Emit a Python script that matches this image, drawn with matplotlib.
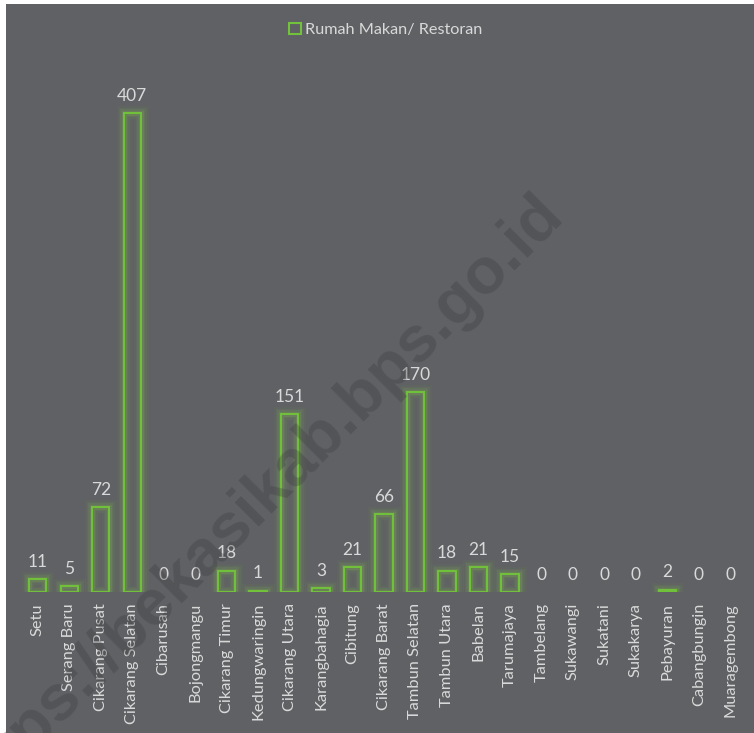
import matplotlib.pyplot as plt
import matplotlib.patches as mpatches
import numpy as np

kecamatan = ["Setu", "Serang Baru", "Cikarang Pusat", "Cikarang Selatan", "Cibarusah",
             "Bojongmangu", "Cikarang Timur", "Kedungwaringin", "Cikarang Utara",
             "Karangbahagia", "Cibitung", "Cikarang Barat", "Tambun Selatan",
             "Tambun Utara", "Babelan", "Tarumajaya", "Tambelang", "Sukawangi",
             "Sukatani", "Sukakarya", "Pebayuran", "Cabangbungin", "Muaragembong"]
rumah_makan = [11, 5, 72, 407, 0, 0, 18, 1, 151, 3, 21, 66, 170, 18, 21, 15,
               0, 0, 0, 0, 2, 0, 0]

bg = "#5f6164"
green = "#72c23c"
txt = "#d9d9d9"
plt.rcParams["font.family"] = ["Lato", "DejaVu Sans"]

W, H = 754, 733
fig = plt.figure(figsize=(W / 100, H / 100), dpi=100, facecolor="white")
fig.patches.append(mpatches.Rectangle((6 / W, 0), 1, 1 - 4 / H, transform=fig.transFigure,
                                      facecolor=bg, edgecolor="none", zorder=-5))

# axes: x from px 22 to 746, baseline at px 592, 407 at px 113
scale = (592 - 113) / 407
top_px = 62
ax = fig.add_axes([22 / W, (H - 592) / H, (746 - 22) / W, (592 - top_px) / H])
ax.set_facecolor("none")
ax.set_ylim(0, (592 - top_px) / scale)
ax.set_xlim(-0.5, len(kecamatan) - 0.5)

x = np.arange(len(kecamatan))
# glow
for lw, a in [(11, 0.04), (8, 0.06), (5.5, 0.09), (3.5, 0.14)]:
    glow = ax.bar(x, rumah_makan, width=0.55, facecolor="none", edgecolor="#8ccf45",
                  linewidth=lw, alpha=a)
    for p, v in zip(glow, rumah_makan):
        p.set_visible(v > 0)
bars = ax.bar(x, rumah_makan, width=0.55, facecolor="none", edgecolor=green,
              linewidth=1.4, label="Rumah Makan/ Restoran")
for p, v in zip(bars, rumah_makan):
    p.set_visible(v > 0)

for xi, v in zip(x, rumah_makan):
    ax.text(xi, v + 8, str(v), ha="center", va="bottom", color=txt, fontsize=12.5)

ax.set_xticks(x)
ax.set_xticklabels(kecamatan, rotation=90, color=txt, fontsize=11.8)
ax.tick_params(axis="x", length=0, pad=8)
ax.set_yticks([])
for s in ax.spines.values():
    s.set_visible(False)

handle = mpatches.Rectangle((0, 0), 1, 1, facecolor="none", edgecolor=green, linewidth=1.5)
leg = fig.legend([handle], ["Rumah Makan/ Restoran"], loc="center",
                 bbox_to_anchor=(386 / W, 1 - 30 / H), frameon=False, fontsize=11.7,
                 handlelength=0.7, handleheight=0.7, handletextpad=0.3)
for t in leg.get_texts():
    t.set_color(txt)

fig.text(553 / W, 1 - 204 / H, "https://bekasikab.bps.go.id", rotation=45,
         rotation_mode="anchor", ha="right", va="center", fontsize=47,
         fontweight="bold", family="Liberation Sans", color="#3a3b3d", alpha=0.32,
         zorder=1)

fig.savefig("out.png", dpi=100, facecolor=fig.get_facecolor())
